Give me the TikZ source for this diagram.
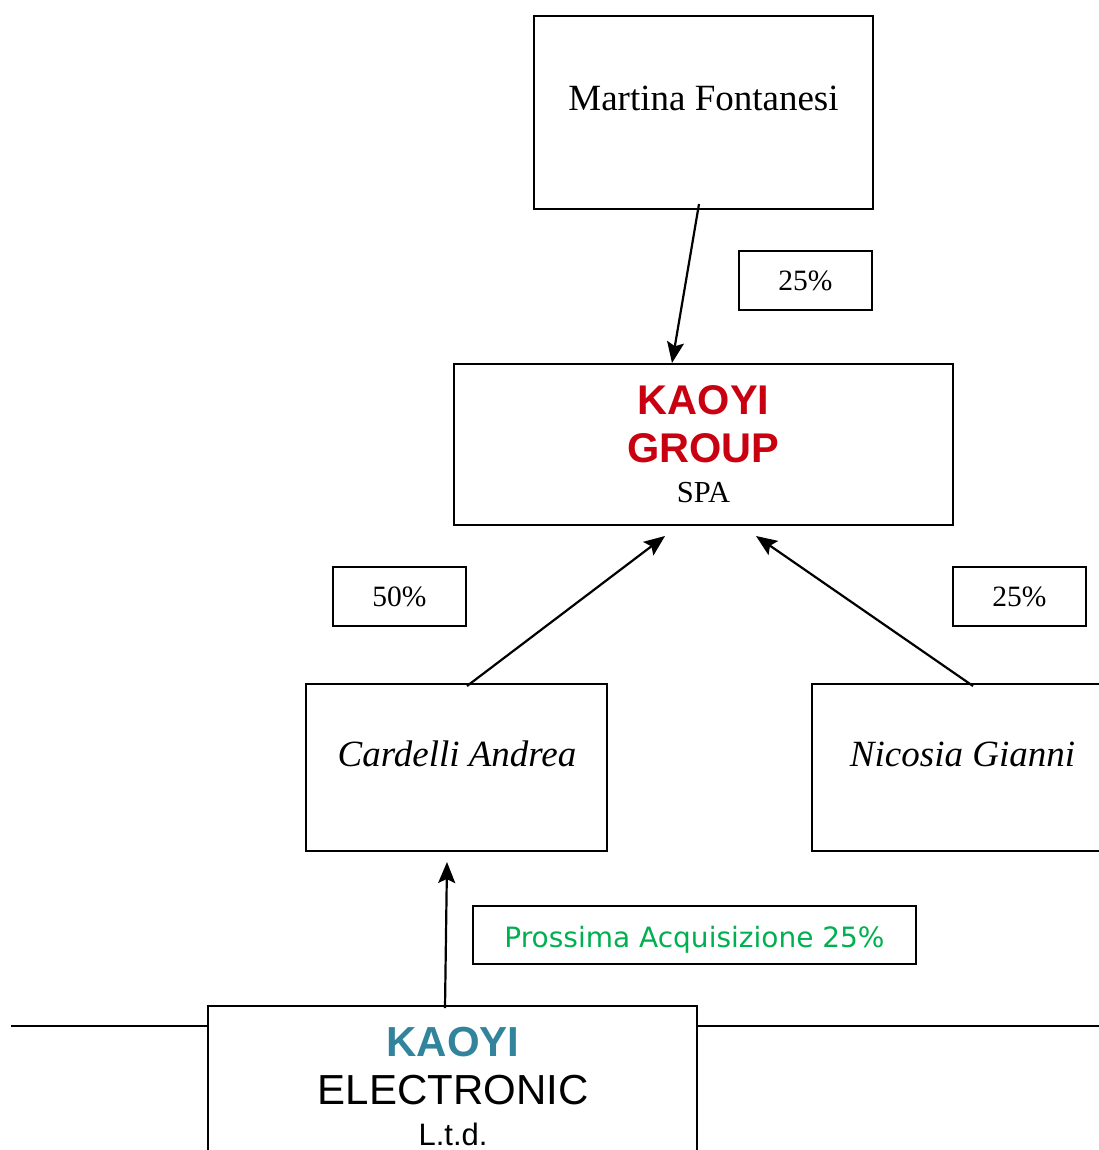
\documentclass[tikz,border=0pt]{standalone}
\usepackage{fontspec}
\setmainfont{Liberation Serif}
\newfontfamily\arialf{Liberation Sans}
\newfontfamily\tahf{DejaVu Sans}
\usetikzlibrary{arrows.meta}
\definecolor{kred}{HTML}{C8000F}
\definecolor{kteal}{HTML}{31849B}
\definecolor{kgreen}{HTML}{00B050}
\tikzset{
  box/.style={draw, line width=2.2pt, rectangle, inner sep=0pt},
  arr/.style={line width=2.2pt, -{Stealth[length=21pt,width=17pt,inset=4pt]}},
  pct/.style={box, minimum width=133pt, minimum height=59pt, font=\fontsize{29.5}{34}\selectfont},
}
\begin{document}
\begin{tikzpicture}[x=1pt,y=-1pt]
\useasboundingbox (0,0) rectangle (1099,1150);
% boxes
\node[box, minimum width=339pt, minimum height=193pt] (mf) at (703.5,112.5) {};
\node[font=\fontsize{37}{44}\selectfont, anchor=base] (mft) at (703.5,111) {Martina Fontanesi};
\node[pct] (p1) at (805.5,280.5) {25\%};
\node[box, minimum width=499pt, minimum height=161pt] (kg) at (703.5,444.5) {};
\node[font=\arialf\bfseries\fontsize{41.5}{48}\selectfont, text=kred, anchor=base] (kg1) at (703.5,414) {KAOYI};
\node[font=\arialf\bfseries\fontsize{41.5}{48}\selectfont, text=kred, anchor=base] (kg2) at (703.5,462) {GROUP};
\node[font=\fontsize{30.5}{36}\selectfont, anchor=base] (kg3) at (703.5,502) {SPA};
\node[pct] (p2) at (399.5,596.5) {50\%};
\node[pct] (p3) at (1019.5,596.5) {25\%};
\node[box, minimum width=301pt, minimum height=167pt] (ca) at (456.5,767.5) {};
\node[font=\itshape\fontsize{37}{44}\selectfont, anchor=base] (cat) at (457,766) {Cardelli Andrea};
\node[box, minimum width=301pt, minimum height=167pt] (ng) at (962.5,767.5) {};
\node[font=\itshape\fontsize{37}{44}\selectfont, anchor=base] (ngt) at (962.5,766) {Nicosia Gianni};
\node[box, minimum width=443pt, minimum height=58pt] (pa) at (694.5,935) {};
\node[font=\tahf\fontsize{28}{34}\selectfont, text=kgreen, anchor=base] (pat) at (694.5,947) {Prossima Acquisizione 25\%};
\node[box, minimum width=489pt, minimum height=200pt] (ke) at (452.5,1106) {};
\node[font=\arialf\bfseries\fontsize{42}{48}\selectfont, text=kteal, anchor=base] (ke1) at (453,1056) {KAOYI};
\node[font=\arialf\fontsize{42}{48}\selectfont, anchor=base] (ke2) at (453,1104) {ELECTRONIC};
\node[font=\arialf\fontsize{31}{36}\selectfont, anchor=base] (ke3) at (453,1145) {L.t.d.};
% horizontal line
\coordinate (hl1) at (11,1026);
\coordinate (hr2) at (1110,1026);
\draw[line width=2.2pt] (hl1) -- (ke.west |- hl1);
\draw[line width=2.2pt] (ke.east |- hl1) -- (hr2);
% arrows
\coordinate (a1s) at (699,204); \coordinate (a1e) at (672,363);
\coordinate (a2s) at (467,686); \coordinate (a2e) at (665,536);
\coordinate (a3s) at (973,686); \coordinate (a3e) at (756,536);
\coordinate (a4s) at (445,1008); \coordinate (a4e) at (447,862);
\draw[arr] (a1s) -- (a1e);
\draw[arr] (a2s) -- (a2e);
\draw[arr] (a3s) -- (a3e);
\draw[arr] (a4s) -- (a4e);
\end{tikzpicture}
\end{document}
